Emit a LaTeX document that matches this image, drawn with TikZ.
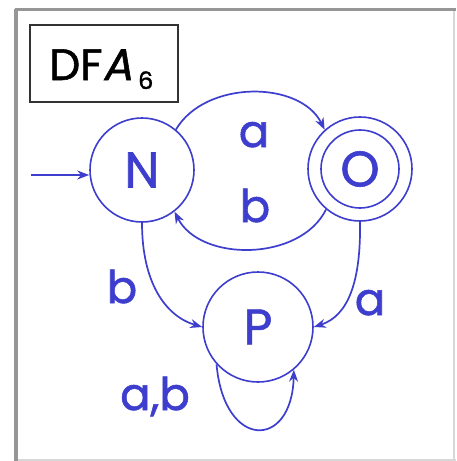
\documentclass[tikz,border=0pt]{standalone}
\usepackage{fontspec}
\setmainfont{Poppins}
\newfontfamily\heavyfont[FakeBold=1.2]{Poppins}
\newfontfamily\slantfont[FakeSlant=0.2,FakeBold=1.2]{Poppins}
\usetikzlibrary{arrows.meta}
\definecolor{dfablue}{RGB}{62,62,206}
\definecolor{framegray}{RGB}{150,150,150}
\definecolor{framelight}{RGB}{215,215,215}
\tikzset{
  state/.style={circle, draw=dfablue, line width=1.6pt, minimum size=104pt, inner sep=0pt,
    text=dfablue, font=\heavyfont\fontsize{50}{50}\selectfont},
  trans/.style={draw=dfablue, line width=1.7pt, -{Stealth[length=12pt,width=9pt]}},
  lbl/.style={text=dfablue, font=\heavyfont\fontsize{45}{45}\selectfont, inner sep=0pt, anchor=base}
}
\begin{document}
\begin{tikzpicture}[x=1pt,y=-1pt]
\useasboundingbox (0,0) rectangle (456,461);
\fill[white] (0,0) rectangle (456,461);
% frame
\draw[framelight, line width=2pt] (454,10) -- (454,461);
\draw[framelight, line width=2pt] (16,460) -- (456,460);
\draw[framegray, line width=3.5pt] (16,9) -- (16,461);
\draw[framegray, line width=2.5pt] (15,9.5) -- (456,9.5);
% title box
\node[draw=black!80, line width=1.5pt, minimum width=148pt, minimum height=77pt, inner sep=0pt] (title) at (104,63.5) {};
\node[anchor=base west, inner sep=0pt, font=\heavyfont\fontsize{44}{44}\selectfont] (titletext) at (49,80) {DF{\slantfont A}\kern6pt\raisebox{-9pt}{\fontsize{24}{24}\selectfont 6}};
% states
\node[state] (N) at (142,170) {N};
\node[state] (O) at (360,169) {O};
\node[circle, draw=dfablue, line width=1.6pt, minimum size=78pt, inner sep=0pt] (Oin) at (360,169) {};
\node[state, minimum size=110pt] (P) at (258,327) {P};
% start
\coordinate (start) at (31,175);
\draw[trans] (start) -- (start -| N.west);
% transitions
\draw[trans] (N.50) .. controls (205,80) and (300,80) .. (O.132);
\draw[trans] (O.-130) .. controls (300,262) and (200,262) .. (N.-52);
\draw[trans] (N.-90) .. controls (142,282) and (165,316) .. (P.180);
\draw[trans] (O.-90) .. controls (361,282) and (348,316) .. (P.0);
\draw[trans] (P.-138) .. controls (224,450) and (292,450) .. (P.-50);
% labels
\node[lbl] (la1) at (254,147) {a};
\node[lbl] (lb1) at (255,222) {b};
\node[lbl] (lb2) at (122,303) {b};
\node[lbl] (la2) at (370,315) {a};
\node[lbl] (lab) at (155,410) {a,b};
\end{tikzpicture}
\end{document}
